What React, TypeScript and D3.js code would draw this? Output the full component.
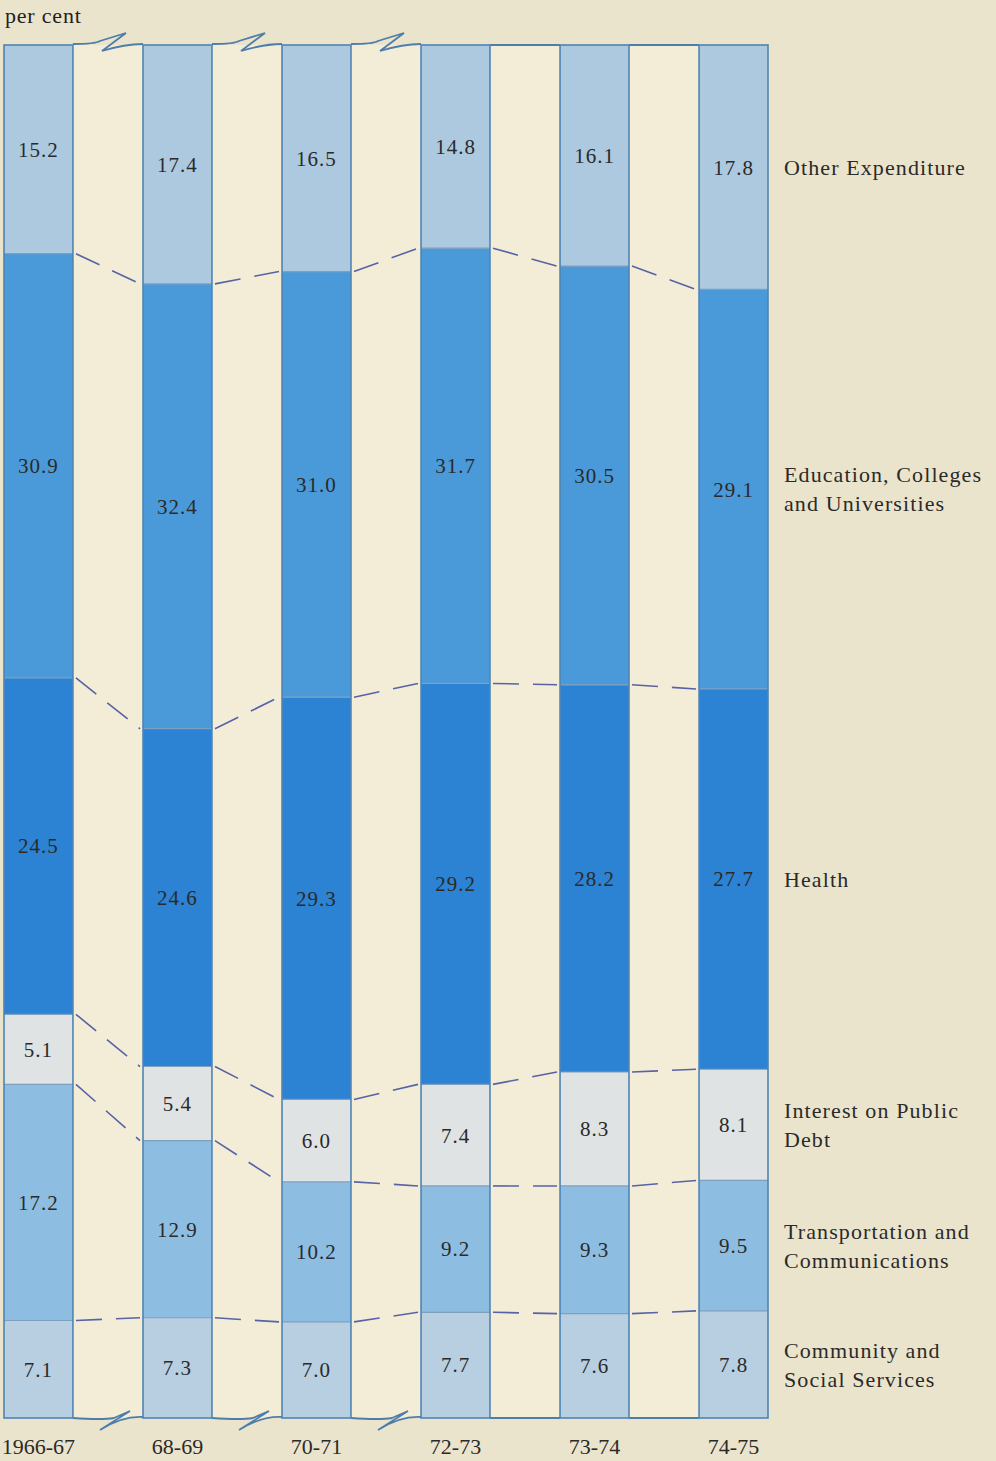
import React from "react";
import * as d3 from "d3";

const years = ["1966-67", "68-69", "70-71", "72-73", "73-74", "74-75"];
// stacked from bottom to top
const categories = [
  "Community and Social Services",
  "Transportation and Communications",
  "Interest on Public Debt",
  "Health",
  "Education, Colleges and Universities",
  "Other Expenditure",
];
const legendLines = [
  ["Community and", "Social Services"],
  ["Transportation and", "Communications"],
  ["Interest on Public", "Debt"],
  ["Health"],
  ["Education, Colleges", "and Universities"],
  ["Other Expenditure"],
];
const community = [7.1, 7.3, 7.0, 7.7, 7.6, 7.8];
const transport = [17.2, 12.9, 10.2, 9.2, 9.3, 9.5];
const interest = [5.1, 5.4, 6.0, 7.4, 8.3, 8.1];
const health = [24.5, 24.6, 29.3, 29.2, 28.2, 27.7];
const education = [30.9, 32.4, 31.0, 31.7, 30.5, 29.1];
const other = [15.2, 17.4, 16.5, 14.8, 16.1, 17.8];
const seriesValues = [community, transport, interest, health, education, other];
const colors = ["#b8cfe1", "#8ebde2", "#dfe3e3", "#2c82d3", "#4a9ad9", "#adc9df"];
const breakGaps = 3; // number of gaps with break marks

export default function App() {
  const W = 996, H = 1461;
  const top = 45, bottom = 1418;
  const x = d3.scaleBand<string>().domain(years).range([4, 768]).paddingInner(0.504).paddingOuter(0);
  const y = d3.scaleLinear().domain([0, 100]).range([bottom, top]);
  const bw = x.bandwidth();

  const rows = years.map((yr, i) => {
    const o: any = { year: yr };
    categories.forEach((c, k) => (o[c] = seriesValues[k][i]));
    return o;
  });
  const stacked = d3.stack<any>().keys(categories)(rows);

  const font = "'Liberation Serif', 'Times New Roman', serif";
  const dash = "#5862a6";

  const breakTop = (x0: number, x1: number, yy: number) => {
    const m = (x0 + x1) / 2 + 12;
    return `M${x0},${yy - 1} Q${m - 25},${yy - 1} ${m - 20},${yy - 4} L${m + 6},${yy - 12} L${m - 18},${yy + 6} Q${m + 5},${yy - 1} ${x1},${yy - 1}`;
  };
  const breakBottom = (x0: number, x1: number, yy: number) => {
    const m = (x0 + x1) / 2 + 14;
    return `M${x0},${yy} Q${m - 20},${yy + 2} ${m - 8},${yy} L${m + 8},${yy - 7} L${m - 22},${yy + 12} Q${m},${yy - 2} ${x1},${yy - 1}`;
  };

  return (
    <svg width={W} height={H} style={{ position: "absolute", left: 0, top: 0 }} fontFamily={font}>
      <rect width={W} height={H} fill="#ebe4cc" />
      <rect x={x(years[0])!} y={top} width={x(years[5])! + bw - x(years[0])!} height={bottom - top} fill="#f3edd8" />
      <text x={5} y={23} fontSize={22} letterSpacing={0.8} fill="#222">per cent</text>

      {/* top & bottom frame lines across gaps */}
      {years.slice(0, -1).map((yr, i) => {
        const x0 = x(yr)! + bw;
        const x1 = x(years[i + 1])!;
        return (
          <g key={"gap" + i} fill="none" stroke="#4d7eaa" strokeWidth={1.8}>
            {i < breakGaps ? (
              <>
                <path d={breakTop(x0, x1, top)} />
                <path d={breakBottom(x0, x1, bottom)} />
              </>
            ) : (
              <>
                <line x1={x0} x2={x1} y1={top} y2={top} />
                <line x1={x0} x2={x1} y1={bottom} y2={bottom} />
              </>
            )}
          </g>
        );
      })}

      {/* bars */}
      {stacked.map((s, k) => (
        <g key={"s" + k}>
          {s.map((d, i) => (
            <rect key={i} x={x(years[i])} y={y(d[1])} width={bw} height={y(d[0]) - y(d[1])} fill={colors[k]} />
          ))}
        </g>
      ))}
      {/* segment boundaries */}
      {stacked.slice(0, -1).map((s, k) => (
        <g key={"b" + k}>
          {s.map((d, i) => (
            <line key={i} x1={x(years[i])} x2={x(years[i])! + bw} y1={y(d[1])} y2={y(d[1])} stroke="#7f9fbf" strokeWidth={1.2} />
          ))}
        </g>
      ))}
      {years.map((yr) => (
        <rect key={"o" + yr} x={x(yr)} y={top} width={bw} height={bottom - top} fill="none" stroke="#4f84b3" strokeWidth={1.6} />
      ))}

      {/* dashed connectors */}
      {stacked.slice(0, -1).map((s, k) => (
        <g key={"c" + k}>
          {s.slice(0, -1).map((d, i) => (
            <line
              key={i}
              x1={x(years[i])! + bw + 3}
              y1={y(d[1])}
              x2={x(years[i + 1])! - 3}
              y2={y(s[i + 1][1])}
              stroke={dash}
              strokeWidth={1.6}
              strokeDasharray="26 14"
            />
          ))}
        </g>
      ))}

      {/* value labels */}
      {stacked.map((s, k) => (
        <g key={"l" + k}>
          {s.map((d, i) => (
            <text
              key={i}
              x={x(years[i])! + bw / 2}
              y={(y(d[0]) + y(d[1])) / 2}
              dy="0.35em"
              textAnchor="middle"
              fontSize={21}
              letterSpacing={1}
              fill="#2a2a2a"
            >
              {seriesValues[k][i].toFixed(1)}
            </text>
          ))}
        </g>
      ))}

      {/* year labels */}
      {years.map((yr) => (
        <text key={"y" + yr} x={x(yr)! + bw / 2} y={1454} textAnchor="middle" fontSize={22} fill="#2a2a2a">
          {yr}
        </text>
      ))}

      {/* legend labels at last bar */}
      {stacked.map((s, k) => {
        const d = s[s.length - 1];
        const cy = (y(d[0]) + y(d[1])) / 2;
        const lines = legendLines[k];
        const lh = 29;
        return (
          <text key={"g" + k} x={784} fontSize={22} letterSpacing={1.1} fill="#2a2a2a">
            {lines.map((ln, j) => (
              <tspan key={j} x={784} y={cy - ((lines.length - 1) * lh) / 2 + j * lh} dy="0.35em">
                {ln}
              </tspan>
            ))}
          </text>
        );
      })}
    </svg>
  );
}
